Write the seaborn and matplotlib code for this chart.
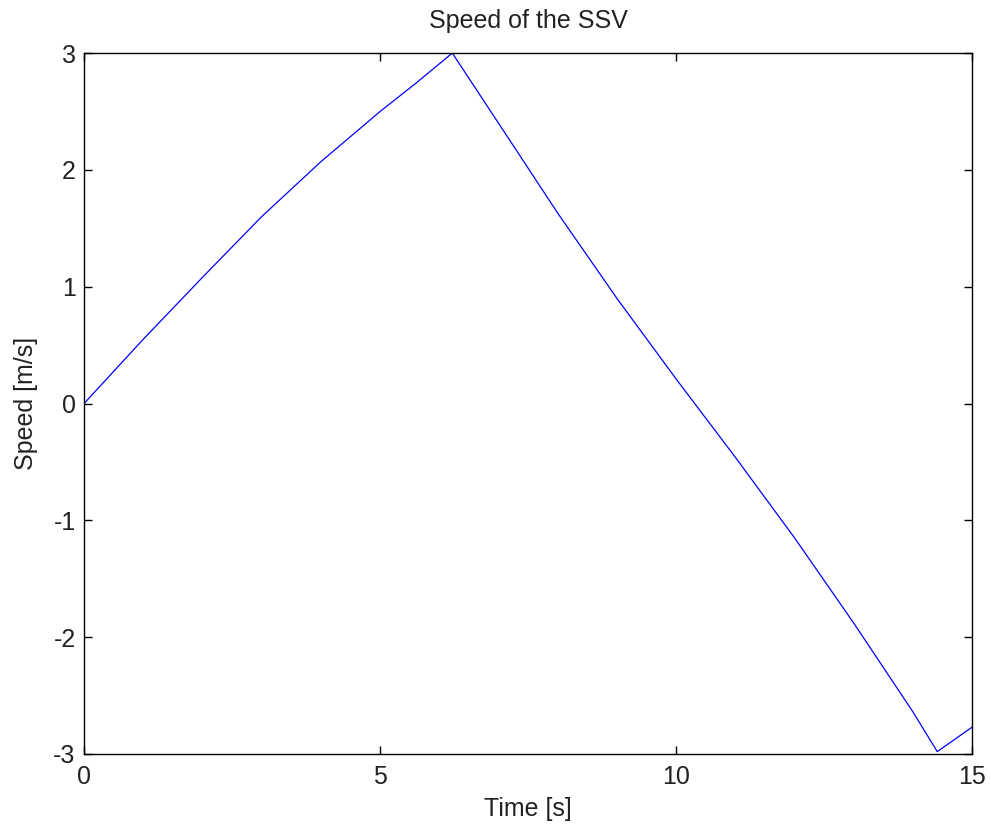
import matplotlib
matplotlib.use("Agg")
import matplotlib.pyplot as plt
import seaborn as sns
import pandas as pd

# Data
time_s = [0.0, 1.0, 2.0, 3.0, 4.0, 5.0, 5.6, 6.22, 7.0, 8.0, 9.0, 10.0,
          11.0, 12.0, 13.0, 14.0, 14.41, 15.0]
speed_ms = [0.0, 0.55, 1.08, 1.60, 2.07, 2.50, 2.74, 3.0, 2.40, 1.63, 0.90, 0.21,
            -0.46, -1.15, -1.88, -2.64, -2.98, -2.77]
x_ticks = [0, 5, 10, 15]
y_ticks = [-3, -2, -1, 0, 1, 2, 3]

df = pd.DataFrame({"t": time_s, "v": speed_ms})

sns.set_theme(style="white")
plt.rcParams["font.family"] = ["Liberation Sans Narrow", "Liberation Sans", "DejaVu Sans"]
plt.rcParams["axes.unicode_minus"] = False

fig = plt.figure(figsize=(9.91, 8.32), dpi=100)
ax = fig.add_axes([0.0848, 0.0938, 0.8962, 0.8424])
sns.lineplot(data=df, x="t", y="v", sort=False, estimator=None,
             color="#0000ff", linewidth=0.9, ax=ax)

ax.set_xlim(0, 15)
ax.set_ylim(-3, 3)
ax.set_xticks(x_ticks)
ax.set_yticks(y_ticks)
ax.tick_params(direction="in", length=6, width=1, colors="black",
               labelcolor="#222222", labelsize=18, top=True, right=True,
               bottom=True, left=True)
ax.tick_params(axis="x", pad=8)
ax.tick_params(axis="y", pad=6)
for s in ax.spines.values():
    s.set_color("black")
    s.set_linewidth(1.0)
    s.set_visible(True)

ax.set_title("Speed of the SSV", fontsize=18, pad=18, color="#222222")
ax.set_xlabel("Time [s]", fontsize=18, labelpad=6, color="#222222")
ax.set_ylabel("Speed [m/s]", fontsize=18, labelpad=11, color="#222222")

fig.savefig("out.png", dpi=100, facecolor="white")
